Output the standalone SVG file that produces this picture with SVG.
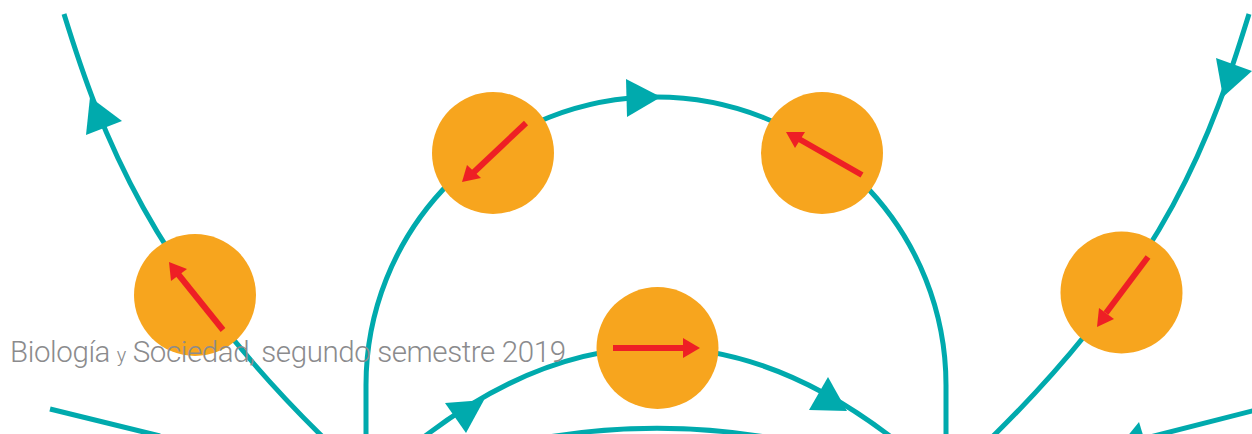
<svg xmlns="http://www.w3.org/2000/svg" width="1252" height="434" viewBox="0 0 1252 434">
<style>
.flow{fill:none;stroke:#00aaad;stroke-width:5}
.head{fill:#00aaad}
.cell{fill:#f7a51e}
.vec{fill:none;stroke:#ee1f25;stroke-width:6}
.vhead{fill:#ee1f25}
.caption{font-family:Roboto,"Liberation Sans",sans-serif;font-weight:300;fill:#8b8b8d;font-size:29.5px}
</style>
<rect width="1252" height="434" fill="#ffffff"/>
<g id="connectors">
<path class="flow" d="M64,14 C100,130 150,270 330,444"/>
<path class="flow" d="M1249,14 C1213,130 1170,265 985,444"/>
<path class="flow" d="M366,440 L366,385 A290,288 0 0 1 946,385 L946,440"/>
<path class="flow" d="M420,440 Q657,255 895,440"/>
<path class="flow" d="M487,450 A675,675 0 0 1 827,450"/>
<path class="flow" d="M50,409 L160,436"/>
<path class="flow" d="M1150,437 L1256,410"/>
<polygon class="head" points="90,97 86,135 122,121"/>
<polygon class="head" points="1223,97 1216,58 1252,71"/>
<polygon class="head" points="661,97 626,79 627,117"/>
<polygon class="head" points="484,400 445,403 466,433"/>
<polygon class="head" points="847,411 828,377 809,410"/>
<polygon class="head" points="1139,422 1113,454 1151,461"/>
</g>
<g id="node-left">
<circle class="cell" cx="195" cy="295" r="61"/>
<line class="vec" x1="223" y1="330" x2="178" y2="274"/>
<polygon class="vhead" points="169,262 171,281 187,269"/>
</g>
<g id="node-top-left">
<circle class="cell" cx="493" cy="153" r="61"/>
<line class="vec" x1="526" y1="123" x2="473" y2="173"/>
<polygon class="vhead" points="462,182 467,165 481,178"/>
</g>
<g id="node-top-right">
<circle class="cell" cx="822" cy="153" r="61"/>
<line class="vec" x1="862" y1="175" x2="799" y2="139"/>
<polygon class="vhead" points="786,132 805,132 795,148"/>
</g>
<g id="node-center">
<circle class="cell" cx="657.5" cy="348" r="61"/>
<line class="vec" x1="613" y1="348" x2="685" y2="348"/>
<polygon class="vhead" points="700,348 683,338 683,358"/>
</g>
<g id="node-right">
<circle class="cell" cx="1121.5" cy="292.5" r="61"/>
<line class="vec" x1="1148" y1="257" x2="1106" y2="313"/>
<polygon class="vhead" points="1097,327 1099,308 1114,319"/>
</g>
<text class="caption" x="10" y="362" textLength="556" lengthAdjust="spacing">Biología <tspan font-size="20">y</tspan> Sociedad, segundo semestre 2019</text>
</svg>
